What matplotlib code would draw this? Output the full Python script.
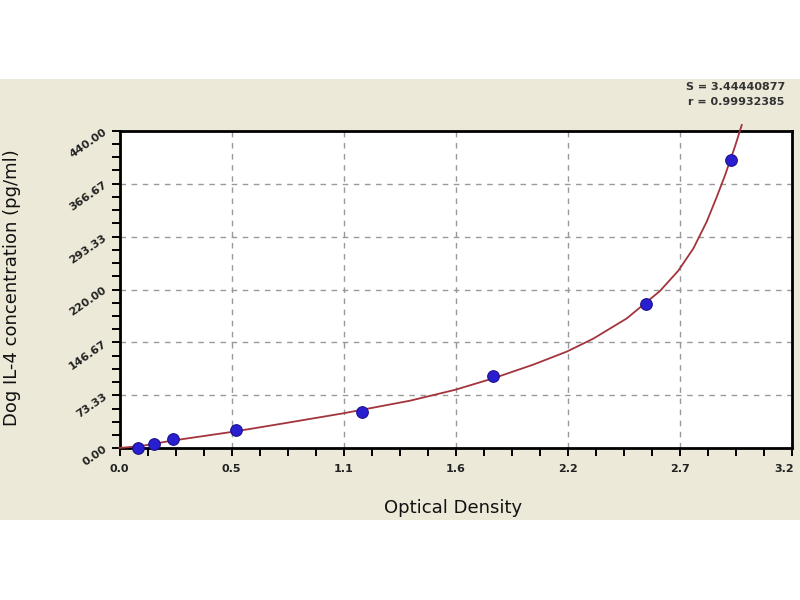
import numpy as np
import matplotlib
matplotlib.use("Agg")
import matplotlib.pyplot as plt
from matplotlib.patches import Rectangle
from matplotlib.ticker import AutoMinorLocator
from matplotlib.transforms import ScaledTranslation

# standard points (OD vs concentration)
od = [0.091, 0.166, 0.259, 0.561, 1.167, 1.798, 2.537, 2.948]
conc = [0.0, 6.25, 12.5, 25.0, 50.0, 100.0, 200.0, 400.0]

# fitted curve
curve_od = [0.0, 0.10, 0.25, 0.548, 0.80, 1.078, 1.40, 1.616, 1.801, 1.994, 2.155,
            2.283, 2.444, 2.604, 2.692, 2.765, 2.829, 2.877, 2.917, 2.965, 2.998]
curve_conc = [0.5, 3.0, 10.5, 23.0, 35.0, 48.5, 66.0, 81.0, 97.0, 116.0, 134.0,
              152.0, 180.0, 218.0, 246.0, 277.0, 314.0, 348.0, 378.0, 418.0, 448.0]

ymax = 440.0
xmax = 3.24
ytick_labels = ["0.00", "73.33", "146.67", "220.00", "293.33", "366.67", "440.00"]
xtick_labels = ["0.0", "0.5", "1.1", "1.6", "2.2", "2.7", "3.2"]
stats = ["S = 3.44440877", "r = 0.99932385"]

fig = plt.figure(figsize=(8, 6), dpi=100)
fig.patch.set_facecolor("white")

# beige panel behind everything
bg = fig.add_axes([0, 0, 1, 1], zorder=-5)
bg.axis("off")
bg.add_patch(Rectangle((0, 0.1333), 1, 0.735, facecolor="#ece9d8", edgecolor="none"))
bg.set_xlim(0, 1)
bg.set_ylim(0, 1)

ax = fig.add_axes([0.1494, 0.2528, 0.8406, 0.5293])
ax.set_facecolor("white")

ax.plot(curve_od, curve_conc, color="#a3343c", lw=1.3, clip_on=False, zorder=3)
ax.scatter(od, conc, s=70, color="#2a1fd0", edgecolors="#1a1290", linewidths=0.8,
           zorder=4, clip_on=False)

ax.set_xlim(0, xmax)
ax.set_ylim(0, ymax)
ax.set_xticks(np.linspace(0, xmax, 7))
ax.set_xticklabels(xtick_labels)
ax.set_yticks(np.linspace(0, ymax, 7))
ax.set_yticklabels(ytick_labels, rotation=35, ha="right", va="center",
                   rotation_mode="anchor")
ax.xaxis.set_minor_locator(AutoMinorLocator(4))
ax.yaxis.set_minor_locator(AutoMinorLocator(4))

ax.tick_params(which="both", direction="out", length=6, width=1.4, color="black",
               labelsize=8)
ax.tick_params(axis="x", pad=5)
ax.tick_params(axis="y", pad=4)
for lab in ax.get_xticklabels() + ax.get_yticklabels():
    lab.set_fontweight("bold")
    lab.set_color("#222222")

# last x label sits at the right edge, nudge it in a bit
last = ax.get_xticklabels()[-1]
last.set_transform(last.get_transform() + ScaledTranslation(-6 / 72, 0, fig.dpi_scale_trans))

for sp in ax.spines.values():
    sp.set_linewidth(2)
    sp.set_color("black")

ax.grid(True, which="major", color="#999999", linestyle=(0, (4, 4)), lw=1)
ax.set_axisbelow(True)

ax.set_xlabel("Optical Density", fontsize=13, color="#111111")
ax.set_ylabel("Dog IL-4 concentration (pg/ml)", fontsize=13, color="#111111")
ax.xaxis.set_label_coords(0.496, -0.16)
ax.yaxis.set_label_coords(-0.146, 0.506)

fig.text(0.981, 0.855, stats[0], ha="right", va="center", fontsize=8,
         fontweight="bold", color="#333333")
fig.text(0.981, 0.830, stats[1], ha="right", va="center", fontsize=8,
         fontweight="bold", color="#333333")

fig.savefig("out.png", dpi=100, facecolor=fig.get_facecolor())
